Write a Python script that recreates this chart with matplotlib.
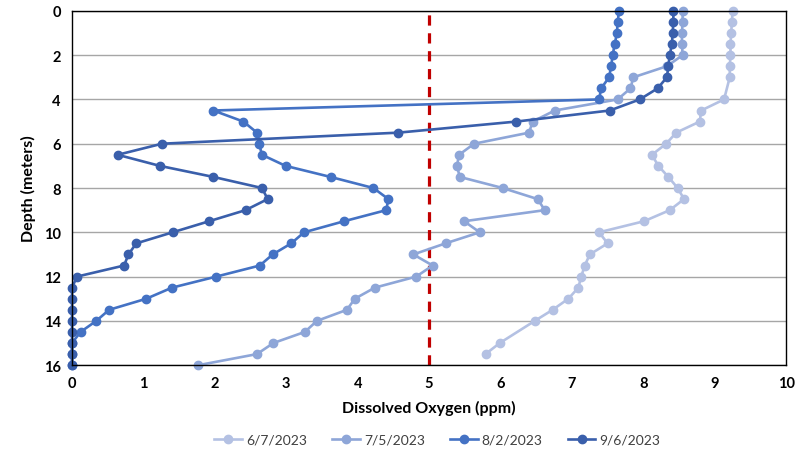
import matplotlib
matplotlib.use("Agg")
import matplotlib.pyplot as plt

plt.rcParams["font.family"] = ["Lato", "DejaVu Sans"]

# Dissolved oxygen (ppm) profiles by depth (m)
depth_0607 = [0, 0.5, 1, 1.5, 2, 2.5, 3, 4, 4.5, 5, 5.5, 6, 6.5, 7, 7.5, 8, 8.5, 9,
              9.5, 10, 10.5, 11, 11.5, 12, 12.5, 13, 13.5, 14, 15, 15.5]
do_0607 = [9.25, 9.24, 9.23, 9.22, 9.22, 9.21, 9.21, 9.13, 8.81, 8.79, 8.46, 8.32,
           8.12, 8.21, 8.35, 8.48, 8.57, 8.37, 8.01, 7.38, 7.50, 7.25, 7.18, 7.13,
           7.09, 6.95, 6.73, 6.48, 5.99, 5.79]

depth_full = [i * 0.5 for i in range(33)]
do_0705 = [8.55, 8.55, 8.54, 8.54, 8.55, 8.33, 7.86, 7.82, 7.64, 6.76, 6.45, 6.40,
           5.63, 5.42, 5.39, 5.43, 6.03, 6.52, 6.62, 5.49, 5.71, 5.23, 4.78, 5.05,
           4.82, 4.24, 3.96, 3.85, 3.43, 3.26, 2.82, 2.59, 1.77]
do_0802 = [7.66, 7.64, 7.63, 7.60, 7.57, 7.55, 7.52, 7.41, 7.38, 1.98, 2.40, 2.59,
           2.62, 2.66, 2.99, 3.62, 4.22, 4.43, 4.40, 3.81, 3.25, 3.07, 2.81, 2.63,
           2.02, 1.40, 1.04, 0.52, 0.34, 0.12, 0, 0, 0]
do_0906 = [8.42, 8.42, 8.41, 8.40, 8.37, 8.35, 8.33, 8.20, 7.95, 7.53, 6.22, 4.57,
           1.26, 0.64, 1.23, 1.98, 2.66, 2.74, 2.43, 1.92, 1.41, 0.90, 0.79, 0.73,
           0.07, 0, 0, 0, 0, 0, 0, 0, 0]

series = [
    ("6/7/2023", depth_0607, do_0607, "#b4c1e3"),
    ("7/5/2023", depth_full, do_0705, "#8ea6d8"),
    ("8/2/2023", depth_full, do_0802, "#4472c4"),
    ("9/6/2023", depth_full, do_0906, "#3a5fab"),
]
threshold = 5

fig = plt.figure(figsize=(8.07, 4.56), dpi=100)
ax = fig.add_axes([0.0892, 0.197, 0.885, 0.777])

for label, d, v, c in series:
    ax.plot(v, d, color=c, lw=1.9, marker="o", ms=6, label=label, clip_on=False)

ax.axvline(threshold, color="#c00000", lw=2.3, ls=(0, (3.2, 2.4)), zorder=1)

ax.set_xlim(0, 10)
ax.set_ylim(16, 0)
ax.set_xticks(range(0, 11))
ax.set_yticks(range(0, 17, 2))
ax.yaxis.grid(True, color="#a6a6a6", lw=1)
ax.set_axisbelow(True)
ax.tick_params(length=0, labelsize=10.5, pad=8)
for t in ax.get_xticklabels() + ax.get_yticklabels():
    t.set_fontweight("bold")
for s in ax.spines.values():
    s.set_color("black")
    s.set_linewidth(1)

ax.set_xlabel("Dissolved Oxygen (ppm)", fontsize=11.5, fontweight="bold", labelpad=7)
ax.set_ylabel("Depth (meters)", fontsize=11.5, fontweight="bold", labelpad=6)

fig.legend(loc="center", bbox_to_anchor=(0.542, 0.033), ncol=4, frameon=False,
           fontsize=10, handlelength=2.0, columnspacing=1.8, handletextpad=0.3,
           labelcolor="#404040")

fig.savefig("out.png", dpi=100)
